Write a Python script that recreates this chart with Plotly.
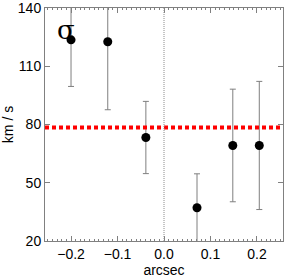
import plotly.graph_objects as go

# data
x_arcsec = [-0.200, -0.121, -0.039, 0.071, 0.148, 0.205]
sigma_kms = [123.6, 122.6, 73.3, 37.1, 69.2, 69.2]
err_kms = [24.0, 35.0, 18.6, 17.5, 29.0, 33.0]
mean_sigma = 78.5

x_ticks = [-0.2, -0.1, 0.0, 0.1, 0.2]
x_ticklabels = ["\u22120.2", "\u22120.1", "0.0", "0.1", "0.2"]
y_ticks = [20, 50, 80, 110, 140]

FONT = "Liberation Sans"

fig = go.Figure()

fig.add_trace(go.Scatter(
    x=x_arcsec, y=sigma_kms, mode="markers",
    marker=dict(color="black", size=9),
    error_y=dict(type="data", array=err_kms, visible=True,
                 color="#7f7f7f", thickness=1, width=3),
    showlegend=False, cliponaxis=True,
))

fig.add_hline(y=mean_sigma, line=dict(color="#ff0000", width=4, dash="4px,3px"))
fig.add_vline(x=0, line=dict(color="#8c8c8c", width=1, dash="1px,1px"))

fig.add_annotation(x=0.09, y=0.905, xref="paper", yref="paper",
                   xanchor="center", yanchor="middle",
                   text="σ", showarrow=False,
                   font=dict(family="DejaVu Serif", size=26, color="black"))

axis_common = dict(
    showline=True, linecolor="#808080", linewidth=1, mirror="ticks",
    ticks="inside", tickcolor="#808080", showgrid=False, zeroline=False,
    tickfont=dict(family=FONT, size=14, color="black"),
    ticklabeloverflow="allow", automargin=False,
)

fig.update_xaxes(
    range=[-0.256, 0.256], tickvals=x_ticks, ticktext=x_ticklabels,
    ticklen=5, title=dict(text="arcsec", standoff=3,
                          font=dict(family=FONT, size=14, color="black")),
    minor=dict(dtick=0.01, tick0=0, ticks="inside", ticklen=2, tickcolor="#808080", showgrid=False),
    **axis_common,
)
fig.update_yaxes(
    range=[20, 140], tickvals=y_ticks, ticklen=5,
    title=dict(text="km / s", standoff=5,
               font=dict(family=FONT, size=14, color="black")),
    **axis_common,
)

fig.update_layout(
    width=287, height=279,
    margin=dict(l=45, r=4, t=8, b=38),
    plot_bgcolor="white", paper_bgcolor="white",
)

fig.write_html("out.html",
               config={"displayModeBar": False},
               post_script="document.body.style.margin='0';document.body.style.overflow='hidden';")
